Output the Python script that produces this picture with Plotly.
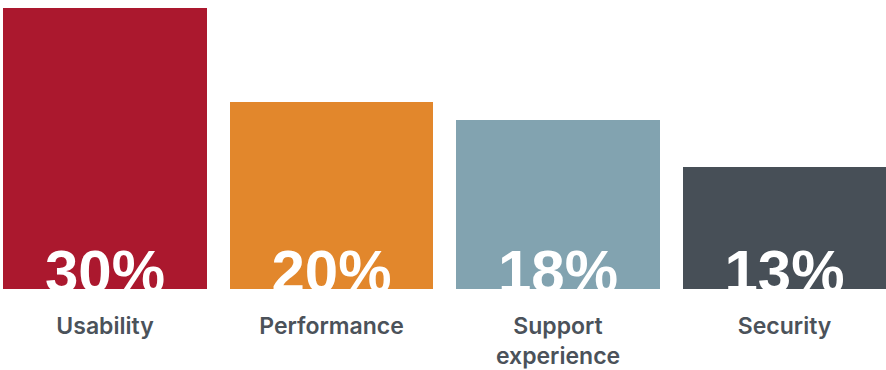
import plotly.graph_objects as go

categories = ["Usability", "Performance", "Support<br>experience", "Security"]
values = [30, 20, 18, 13]
labels = ["30%", "20%", "18%", "13%"]
colors = ["#AB182E", "#E2872C", "#82A3B0", "#474F57"]

x = list(range(len(categories)))
LABEL_Y = 1.27  # vertical anchor of the big value labels (data units)

fig = go.Figure()
fig.add_trace(go.Bar(
    x=x, y=values, width=0.9,
    marker=dict(color=colors, line=dict(width=0)),
    hoverinfo="skip",
))
fig.add_trace(go.Scatter(
    x=x, y=[LABEL_Y] * len(x), mode="text", text=labels,
    textposition="middle center",
    textfont=dict(family="Liberation Sans, Arial, sans-serif", size=60,
                  color="white", weight="bold"),
    cliponaxis=True, hoverinfo="skip",
))

fig.update_layout(
    width=886, height=370,
    margin=dict(l=0, r=0, t=0, b=81),
    paper_bgcolor="white", plot_bgcolor="white",
    showlegend=False,
    bargap=0,
    xaxis=dict(
        range=[-0.4636, 3.448],
        tickmode="array", tickvals=x, ticktext=categories,
        showgrid=False, zeroline=False, showline=False, ticks="",
        tickfont=dict(family="Inter, Liberation Sans, Arial, sans-serif", size=23,
                      color="#4B525A", weight=600),
        ticklabelstandoff=21,
        automargin=False,
        fixedrange=True,
    ),
    yaxis=dict(
        range=[0, 30.85], visible=False, fixedrange=True, automargin=False,
    ),
)

fig.write_html("out.html")
